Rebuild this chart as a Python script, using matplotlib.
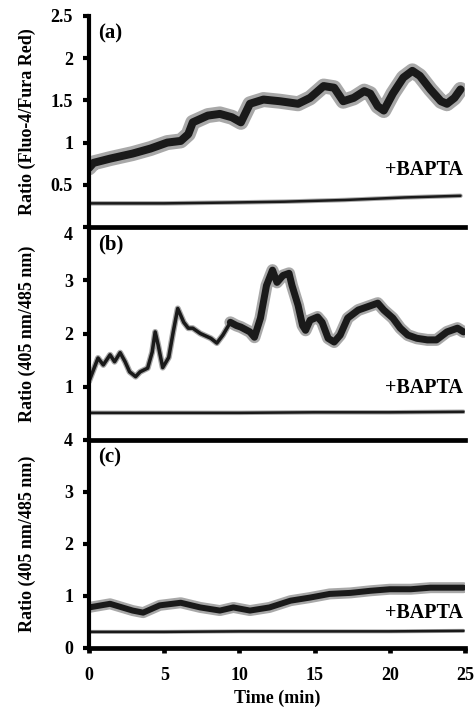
import numpy as np
import matplotlib
matplotlib.use("Agg")
import matplotlib.pyplot as plt

plt.rcParams['font.family'] = ['Liberation Serif', 'DejaVu Serif']
plt.rcParams['font.weight'] = 'bold'

# ---- data ----
time_a = [0.0, 0.3, 1.4, 2.9, 4.1, 5.2, 6.1, 6.6, 6.9, 7.9, 8.7, 9.5, 10.1, 10.7, 11.6, 12.7,
          13.9, 14.7, 15.6, 16.3, 16.9, 17.6, 18.3, 18.7, 19.2, 19.6, 20.2, 20.9, 21.5, 22.0,
          22.7, 23.4, 23.8, 24.3, 24.7]
ratio_a = [0.70, 0.76, 0.81, 0.87, 0.93, 1.00, 1.02, 1.10, 1.24, 1.32, 1.34, 1.30, 1.24, 1.46,
           1.51, 1.49, 1.46, 1.53, 1.67, 1.65, 1.49, 1.53, 1.61, 1.58, 1.43, 1.38, 1.58, 1.77,
           1.85, 1.79, 1.63, 1.49, 1.46, 1.53, 1.63]
time_a_bapta = [0, 5, 9.4, 13, 17, 21, 24.7]
ratio_a_bapta = [0.28, 0.28, 0.29, 0.30, 0.32, 0.35, 0.37]

time_b = [0.0, 0.6, 0.95, 1.4, 1.7, 2.07, 2.4, 2.7, 3.1, 3.4, 3.9, 4.2, 4.4, 4.6, 4.9, 5.3, 5.6,
          5.9, 6.3, 6.6, 6.9, 7.4, 8.1, 8.5, 8.9, 9.4, 9.8, 10.1, 10.7, 11.0, 11.4, 11.8, 12.2,
          12.5, 12.9, 13.3, 13.5, 13.9, 14.2, 14.4, 14.7, 15.2, 15.5, 15.9, 16.3, 16.7, 17.2,
          17.9, 18.5, 19.2, 19.6, 20.2, 20.7, 21.2, 21.8, 22.5, 23.1, 23.8, 24.5, 24.9]
ratio_b = [1.10, 1.54, 1.41, 1.60, 1.47, 1.64, 1.47, 1.28, 1.19, 1.28, 1.35, 1.65, 2.03, 1.78,
           1.36, 1.55, 2.03, 2.47, 2.21, 2.10, 2.10, 2.00, 1.91, 1.82, 1.97, 2.21, 2.15, 2.12,
           2.03, 1.93, 2.29, 2.90, 3.19, 2.96, 3.09, 3.13, 2.90, 2.53, 2.15, 2.06, 2.25, 2.31,
           2.21, 1.91, 1.84, 1.97, 2.29, 2.44, 2.50, 2.57, 2.44, 2.29, 2.10, 1.97, 1.91, 1.88,
           1.88, 2.03, 2.10, 2.03]
time_b_bapta = [0, 5, 10, 15, 20, 24.9]
ratio_b_bapta = [0.51, 0.51, 0.51, 0.52, 0.52, 0.53]

time_c = [0.0, 1.4, 2.9, 3.6, 4.7, 6.1, 7.4, 8.7, 9.6, 10.7, 12.0, 13.4, 14.7, 16.0, 17.4,
          18.7, 20.0, 21.4, 22.7, 24.0, 24.9]
ratio_c = [0.78, 0.85, 0.72, 0.68, 0.82, 0.87, 0.78, 0.72, 0.78, 0.72, 0.78, 0.91, 0.97, 1.04,
           1.06, 1.10, 1.13, 1.13, 1.16, 1.16, 1.16]
time_c_bapta = [0, 5, 10, 15, 20, 24.9]
ratio_c_bapta = [0.31, 0.31, 0.32, 0.32, 0.32, 0.33]

ylabels = ['Ratio (Fluo-4/Fura Red)', 'Ratio (405 nm/485 nm)', 'Ratio (405 nm/485 nm)']
panel_tags = ['(a)', '(b)', '(c)']
yticks = [[0.5, 1, 1.5, 2, 2.5], [1, 2, 3, 4], [0, 1, 2, 3, 4]]
ylims = [(0, 2.5), (0, 4), (0, 4)]
xticks = [0, 5, 10, 15, 20, 25]

# ---- layout ----
W, H = 475, 711
fig = plt.figure(figsize=(W / 100, H / 100), dpi=100)
left = 89 / W
width = 376 / W
bounds = [(16, 227), (227, 440), (440, 648)]

PX = 0.72  # points per pixel at 100 dpi
# (times, values, [(start_idx, end_idx, core_px, fringe_px), ...])
traces = [
    [(time_a, ratio_a, [(0, None, 8, 15)]),
     (time_a_bapta, ratio_a_bapta, [(0, None, 2.5, 4.5)])],
    [(time_b, ratio_b, [(0, 26, 3.5, 6), (25, None, 7, 12)]),
     (time_b_bapta, ratio_b_bapta, [(0, None, 2.5, 4.5)])],
    [(time_c, ratio_c, [(0, None, 6, 11)]),
     (time_c_bapta, ratio_c_bapta, [(0, None, 2.5, 4)])],
]
bapta_y = [0.27, 0.245, 0.17]
fs = 13
fs_big = 14.5

for i, (top, bot) in enumerate(bounds):
    ax = fig.add_axes([left, 1 - bot / H, width, (bot - top) / H])
    for t, r, segs in traces[i]:
        t = np.asarray(t); r = np.asarray(r)
        for s0, s1, core, fringe in segs:
            ax.plot(t[s0:s1], r[s0:s1], color='#a8a8a8', lw=fringe * PX,
                    solid_joinstyle='round', solid_capstyle='round', zorder=2)
        for s0, s1, core, fringe in segs:
            ax.plot(t[s0:s1], r[s0:s1], color='#1a1a1a', lw=core * PX,
                    solid_joinstyle='round', solid_capstyle='round', zorder=3)

    ax.set_xlim(0, 25)
    ax.set_ylim(*ylims[i])
    ax.set_yticks(yticks[i])
    ax.set_yticklabels([('%g' % v) for v in yticks[i]], fontsize=fs, fontweight='bold')
    for s in ['right', 'top']:
        ax.spines[s].set_visible(False)
    ax.spines['left'].set_linewidth(3.0)
    ax.spines['bottom'].set_linewidth(3.4)
    ax.spines['bottom'].set_zorder(5)
    ax.spines['left'].set_zorder(5)
    ax.tick_params(axis='y', direction='out', length=4.5, width=3.0, pad=7)
    ax.set_ylabel(ylabels[i], fontsize=fs, fontweight='bold')
    ax.yaxis.set_label_coords(-0.14, 0.5)
    ax.text(0.025, 0.965, panel_tags[i], transform=ax.transAxes, fontsize=fs_big + 0.5,
            fontweight='bold', ha='left', va='top')
    ax.text(0.995, bapta_y[i], '+BAPTA', transform=ax.transAxes, fontsize=fs_big,
            fontweight='bold', ha='right', va='center')
    if i < 2:
        ax.tick_params(axis='x', bottom=False, labelbottom=False)
    else:
        ax.set_xticks(xticks)
        ax.set_xticklabels([str(v) for v in xticks], fontsize=fs, fontweight='bold')
        ax.tick_params(axis='x', direction='out', length=3.5, width=3.4, pad=10)
        ax.set_xlabel('Time (min)', fontsize=fs, fontweight='bold', labelpad=4)
    if i == 1:
        lbl = ax.get_yticklabels()[-1]
        lbl.set_va('top')
    ax.patch.set_alpha(0)

fig.savefig('out.png', dpi=100)
